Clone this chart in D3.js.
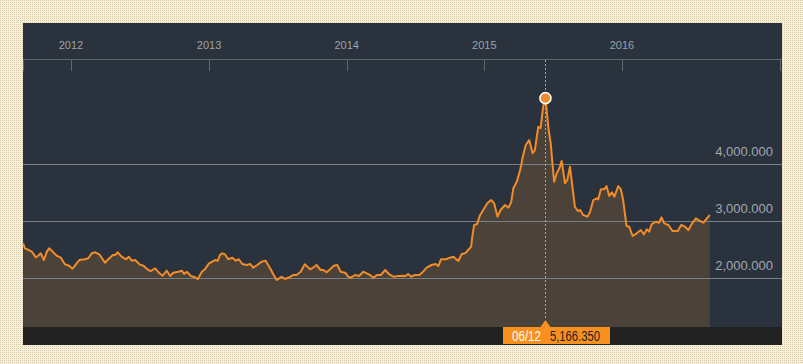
<!DOCTYPE html>
<html>
<head>
<meta charset="utf-8">
<script src="https://cdn.jsdelivr.net/npm/d3@7"></script>
<style>
  body { margin: 0; background: #f4eedb; }
  svg { display: block; }
</style>
</head>
<body>
<div id="chart"></div>
<script>
// weekly-ish closes
let dates = [
  "2011-08-27","2011-09-01","2011-09-10","2011-09-19","2011-09-30","2011-10-06","2011-10-13","2011-10-21","2011-10-29","2011-11-04",
  "2011-11-15","2011-11-24","2011-12-05","2011-12-16","2011-12-27","2012-01-05","2012-01-16","2012-01-23","2012-02-07","2012-02-16",
  "2012-02-25","2012-03-05","2012-03-16","2012-03-31","2012-04-09","2012-04-21","2012-04-27","2012-05-04","2012-05-14","2012-05-26",
  "2012-06-02","2012-06-10","2012-06-19","2012-07-02","2012-07-11","2012-07-24","2012-07-31","2012-08-11","2012-08-21","2012-08-31",
  "2012-09-11","2012-09-20","2012-09-28","2012-10-12","2012-10-21","2012-10-27","2012-11-03","2012-11-14","2012-11-25","2012-12-02",
  "2012-12-13","2012-12-21","2013-01-01","2013-01-10","2013-01-17","2013-01-24","2013-01-30","2013-02-05","2013-02-12","2013-02-21",
  "2013-03-04","2013-03-13","2013-03-21","2013-03-30","2013-04-11","2013-04-20","2013-04-28","2013-05-09","2013-05-21","2013-05-31",
  "2013-06-12","2013-06-20","2013-06-29","2013-07-06","2013-07-13","2013-07-21","2013-08-02","2013-08-12","2013-08-21","2013-09-01",
  "2013-09-12","2013-09-26","2013-10-04","2013-10-13","2013-10-24","2013-10-31","2013-11-09","2013-11-18","2013-11-28","2013-12-07",
  "2013-12-16","2013-12-28","2014-01-05","2014-01-12","2014-01-23","2014-02-03","2014-02-14","2014-02-23","2014-03-04","2014-03-13",
  "2014-03-22","2014-04-02","2014-04-13","2014-04-23","2014-05-05","2014-05-18","2014-05-31","2014-06-06","2014-06-13","2014-06-21",
  "2014-07-01","2014-07-13","2014-07-21","2014-08-01","2014-08-14","2014-08-25","2014-09-01","2014-09-08","2014-09-21","2014-10-02",
  "2014-10-11","2014-10-24","2014-11-02","2014-11-11","2014-11-19","2014-11-27","2014-11-30","2014-12-05","2014-12-13","2014-12-20",
  "2014-12-29","2015-01-09","2015-01-19","2015-01-27","2015-02-05","2015-02-13","2015-02-25","2015-03-06","2015-03-13","2015-03-19",
  "2015-03-28","2015-04-06","2015-04-14","2015-04-21","2015-04-30","2015-05-09","2015-05-15","2015-05-24","2015-05-30","2015-06-06",
  "2015-06-12","2015-06-20","2015-06-26","2015-06-29","2015-07-05","2015-07-12","2015-07-19","2015-07-25","2015-08-03","2015-08-09",
  "2015-08-16","2015-08-22","2015-08-29","2015-09-06","2015-09-12","2015-09-20","2015-10-01","2015-10-08","2015-10-17","2015-10-26",
  "2015-10-30","2015-11-06","2015-11-15","2015-11-21","2015-11-28","2015-12-05","2015-12-12","2015-12-22","2015-12-29","2016-01-04",
  "2016-01-13","2016-01-20","2016-01-29","2016-02-09","2016-02-20","2016-02-28","2016-03-07","2016-03-13","2016-03-20","2016-03-31",
  "2016-04-08","2016-04-15","2016-04-22","2016-05-03","2016-05-14","2016-05-28","2016-06-06","2016-06-16","2016-06-25","2016-07-05",
  "2016-07-15","2016-07-26","2016-08-04","2016-08-13","2016-08-21"
];
let closes = [
  2607,2518,2489,2459,2360,2388,2430,2312,2459,2518,
  2448,2388,2353,2236,2212,2159,2254,2312,2325,2342,
  2430,2448,2413,2265,2325,2400,2400,2448,2370,2325,
  2370,2300,2312,2230,2212,2136,2118,2166,2088,2035,
  2124,2030,2088,2106,2124,2065,2106,2030,2007,1972,
  2106,2148,2254,2283,2312,2300,2400,2430,2413,2325,
  2353,2300,2325,2242,2224,2242,2177,2224,2283,2300,
  2166,2065,1959,1989,2018,1977,2007,2048,2048,2106,
  2236,2148,2177,2224,2136,2136,2095,2148,2212,2224,
  2106,2088,2018,2000,2048,2030,2106,2077,2048,2000,
  2048,2048,2136,2065,2018,2030,2036,2030,2065,2018,
  2048,2048,2095,2177,2224,2242,2206,2325,2325,2353,
  2370,2295,2418,2430,2489,2547,2723,2929,2947,3094,
  3194,3312,3370,3312,3076,3194,3282,3235,3330,3577,
  3693,3899,4164,4340,4429,4194,4252,4663,4635,5016,
  5166.35,4635,4370,4134,3693,3841,3929,4058,3665,3723,
  3958,3635,3252,3176,3194,3106,3076,3153,3370,3400,
  3383,3559,3559,3617,3441,3506,3429,3617,3559,3370,
  2912,2900,2735,2783,2841,2765,2853,2812,2947,2988,
  2970,3065,2959,2929,2824,2824,2929,2900,2841,2959,
  3047,3000,2970,3047,3106
];
let yearTicks = ["2012","2013","2014","2015","2016"];
let valueTicks = [2000, 3000, 4000];
let markerDate = "2015-06-12";
let markerValue = 5166.35;

let W = 803, H = 364;
let panel = { left: 23, top: 23, right: 782, bottom: 345 },
    axisY = 59,
    plotBottom = 327;

let parse = d3.utcParse("%Y-%m-%d");
let data = dates.map(function (d, i) { return { date: parse(d), value: closes[i] }; });

let svg = d3.select("#chart")
    .append("svg")
    .attr("width", W)
    .attr("height", H);

// dotted beige background
let defs = svg.append("defs");
let pat = defs.append("pattern")
    .attr("id", "dots")
    .attr("width", 2).attr("height", 2)
    .attr("patternUnits", "userSpaceOnUse");
pat.append("rect").attr("width", 2).attr("height", 2).attr("fill", "#f6f0de");
pat.append("rect").attr("width", 1).attr("height", 1).attr("fill", "#d9cba6");
svg.append("rect").attr("width", W).attr("height", H).attr("fill", "url(#dots)");

let clip = defs.append("clipPath").attr("id", "plotclip");
clip.append("rect")
    .attr("x", panel.left).attr("y", panel.top)
    .attr("width", panel.right - panel.left)
    .attr("height", plotBottom - panel.top);

// dark panel
svg.append("rect")
    .attr("x", panel.left).attr("y", panel.top)
    .attr("width", panel.right - panel.left)
    .attr("height", panel.bottom - panel.top)
    .attr("fill", "#29323d");

// scales (anchored on the year ticks, extends past them)
let x = d3.scaleUtc()
    .domain([parse("2012-01-01"), parse("2016-01-01")])
    .range([71, 622]);
let y = d3.scaleLinear()
    .domain([2000, 4000])
    .range([277.7, 164.3]);

// area
let area = d3.area()
    .x(function (d) { return x(d.date); })
    .y0(plotBottom)
    .y1(function (d) { return y(d.value); });
svg.append("path")
    .datum(data)
    .attr("clip-path", "url(#plotclip)")
    .attr("d", area)
    .attr("fill", "#4b4239");

// grid lines + labels
svg.selectAll("gridLines")
    .data(valueTicks)
    .enter()
    .append("line")
    .attr("x1", panel.left).attr("x2", panel.right)
    .attr("y1", function (d) { return Math.round(y(d)) + 0.5; })
    .attr("y2", function (d) { return Math.round(y(d)) + 0.5; })
    .attr("stroke", "#7a7f84")
    .attr("stroke-width", 1);

svg.selectAll("gridLabels")
    .data(valueTicks)
    .enter()
    .append("text")
    .attr("x", 773)
    .attr("y", function (d) { return y(d) - 8; })
    .attr("text-anchor", "end")
    .style("font-family", "'Liberation Sans', Arial, sans-serif")
    .style("font-size", "13px")
    .style("fill", "#a3a8ad")
    .text(function (d) { return d3.format(",.3f")(d); });

// line
let line = d3.line()
    .x(function (d) { return x(d.date); })
    .y(function (d) { return y(d.value); });
svg.append("path")
    .datum(data)
    .attr("d", line)
    .attr("fill", "none")
    .attr("stroke", "#f28c28")
    .attr("stroke-width", 2)
    .attr("stroke-linejoin", "round");

// top time axis
svg.append("line")
    .attr("x1", panel.left).attr("x2", panel.right)
    .attr("y1", axisY + 0.5).attr("y2", axisY + 0.5)
    .attr("stroke", "#5f676f");

let yearDates = yearTicks.map(function (d) { return parse(d + "-01-01"); });
svg.selectAll("yearTicks")
    .data(yearDates.map(function (d) { return Math.round(x(d)) + 0.5; }).concat([panel.left + 0.5, panel.right - 1.5]))
    .enter()
    .append("line")
    .attr("x1", function (d) { return d; })
    .attr("x2", function (d) { return d; })
    .attr("y1", axisY).attr("y2", axisY + 12)
    .attr("stroke", "#5f676f");

svg.selectAll("yearLabels")
    .data(yearDates)
    .enter()
    .append("text")
    .attr("x", function (d) { return x(d); })
    .attr("y", 49)
    .attr("text-anchor", "middle")
    .style("font-family", "'Liberation Sans', Arial, sans-serif")
    .style("font-size", "11px")
    .style("fill", "#9ea3a8")
    .text(function (d, i) { return yearTicks[i]; });

// bottom bar
svg.append("rect")
    .attr("x", panel.left).attr("y", plotBottom)
    .attr("width", panel.right - panel.left)
    .attr("height", panel.bottom - plotBottom)
    .attr("fill", "#222222");

// marker at the peak
let mx = x(parse(markerDate)), my = y(markerValue);
svg.append("line")
    .attr("x1", Math.round(mx) + 0.5).attr("x2", Math.round(mx) + 0.5)
    .attr("y1", axisY + 1).attr("y2", 320)
    .attr("stroke", "#d6a040")
    .attr("stroke-dasharray", "2,2");

svg.append("circle")
    .attr("cx", mx).attr("cy", my)
    .attr("r", 5.5)
    .attr("fill", "#f28c28")
    .attr("stroke", "#ffffff")
    .attr("stroke-width", 1.6);

// tooltip box
svg.append("rect")
    .attr("x", 503).attr("y", plotBottom)
    .attr("width", 107).attr("height", 17)
    .attr("fill", "#f7901e");
svg.append("path")
    .attr("d", "M" + (mx - 5) + "," + plotBottom + "L" + mx + "," + 320 + "L" + (mx + 5) + "," + plotBottom + "Z")
    .attr("fill", "#f7901e");

// condensed look: squeeze regular glyphs into the measured widths
svg.append("text")
    .attr("x", 512).attr("y", 341)
    .attr("textLength", 29)
    .attr("lengthAdjust", "spacingAndGlyphs")
    .style("font-family", "'Liberation Sans', Arial, sans-serif")
    .style("font-size", "14px")
    .style("fill", "#ffffff")
    .text(d3.utcFormat("%m/%d")(parse(markerDate)));
svg.append("text")
    .attr("x", 550).attr("y", 341)
    .attr("textLength", 50)
    .attr("lengthAdjust", "spacingAndGlyphs")
    .style("font-family", "'Liberation Sans', Arial, sans-serif")
    .style("font-size", "14px")
    .style("fill", "#222222")
    .text(d3.format(",.3f")(markerValue));
</script>
</body>
</html>
